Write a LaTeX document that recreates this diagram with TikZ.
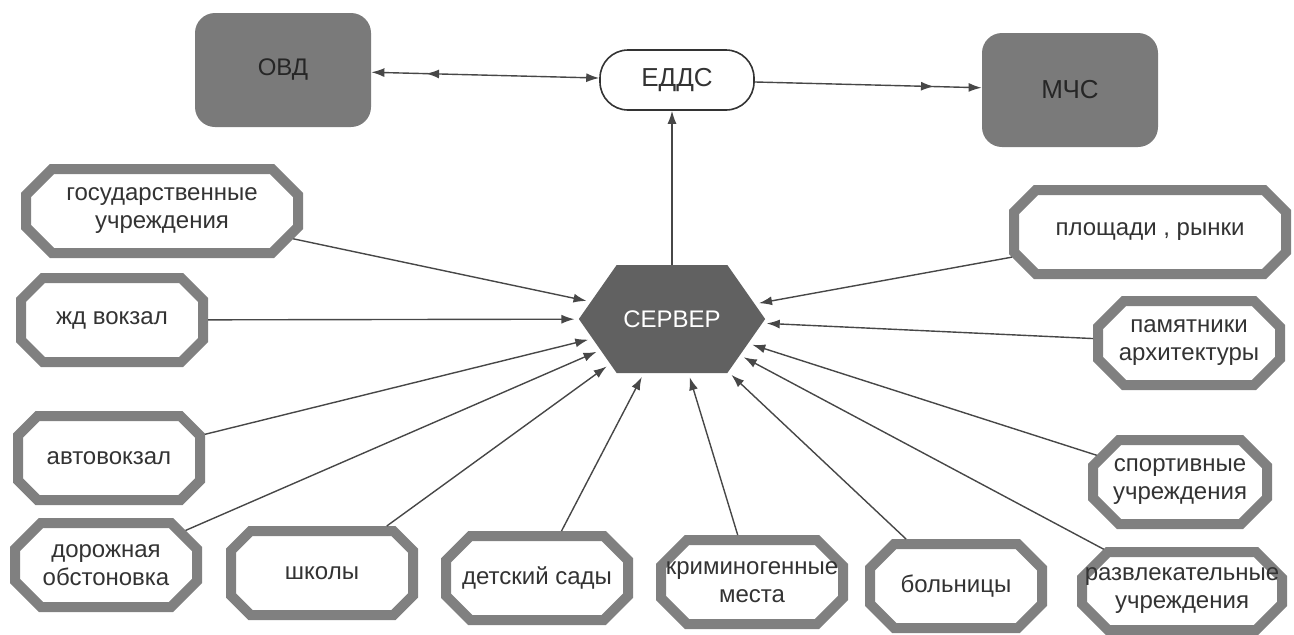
\documentclass[tikz,border=0pt]{standalone}
\usepackage{fontspec}
\setmainfont{Liberation Sans}
\usetikzlibrary{arrows.meta,decorations.markings,shapes.misc,shapes.symbols}
\colorlet{boxgray}{black!50}
\colorlet{agencygray}{black!52}
\colorlet{srvgray}{black!62}
\colorlet{linegray}{black!72}
\tikzset{%
  >={Latex[length=6.5pt,width=4.5pt]}, % default arrow style
  ->-/.style={postaction={decorate},decoration={%
      markings,mark=at position #1 with {\arrow{>}}%
    }%
  },%
  ->-/.default=.5,%
  -<-/.style={postaction={decorate},decoration={%
      markings,mark=at position #1 with {\arrowreversed{>}}%
    }%
  },%
  -<-/.default=.5,%
  txt/.style={font=\fontsize{12}{14}\selectfont},%
  place/.style={txt,chamfered rectangle,chamfered rectangle xsep=6.5pt,%
    chamfered rectangle ysep=6.5pt,draw=boxgray,line width=5pt,fill=white,%
    text=black!80,minimum width=91pt,minimum height=42pt,align=center,inner sep=0pt},%
  wide/.style={minimum width=136pt},%
  agency/.style={txt,rectangle,rounded corners=10pt,fill=agencygray,text=black!85,%
    minimum width=88pt,minimum height=57pt},%
  hub/.style={font=\fontsize{13}{15}\selectfont,rectangle,rounded corners=14pt,%
    draw=black!80,line width=0.8pt,fill=white,text=black!80,%
    minimum width=77pt,minimum height=30pt},%
  srv/.style={txt,signal,signal to=west and east,signal pointer angle=110,%
    fill=srvgray,text=white,minimum width=87.5pt,minimum height=54pt},%
  link/.style={draw=linegray,line width=0.7pt}%
}
\begin{document}
\begin{tikzpicture}[x=0.5pt,y=-0.5pt]
  \useasboundingbox (0,0) rectangle (1294,634);
  % top row
  \node[agency] (ovd)  at (283,70)  {ОВД};
  \node[hub]    (eddc) at (677,80)  {ЕДДС};
  \node[agency,font=\fontsize{13}{15}\selectfont] (mchs) at (1070,90) {МЧС};
  % server
  \node[srv] (server) at (672,319) {СЕРВЕР};
  % objects, left
  \node[place,wide] (gos)    at (162,211) {государственные\\учреждения};
  \node[place]      (zhd)    at (112,320) {жд вокзал};
  \node[place]      (avto)   at (109,458) {автовокзал};
  \node[place]      (dorog)  at (106,565) {дорожная\\обстоновка};
  % objects, bottom
  \node[place]      (shkoly) at (322,573) {школы};
  \node[place]      (detsad) at (537,578) {детский сады};
  \node[place]      (krim)   at (752,582) {\makebox[0pt]{криминогенные}\\места};
  \node[place,minimum width=86pt] (boln) at (956,586) {больницы};
  % objects, right
  \node[place,minimum width=100pt,minimum height=39pt] (razvl) at (1182,591)
    {\makebox[0pt]{развлекательные}\\учреждения};
  \node[place,minimum width=87pt] (sport)  at (1180,482) {спортивные\\учреждения};
  \node[place]      (pamyat) at (1189,343) {памятники\\архитектуры};
  \node[place,wide] (ploshch) at (1150,232) {площади , рынки};
  % links
  \draw[link,<->,-<-=.24] (ovd) -- (eddc);
  \draw[link,->,->-=.79] (eddc) -- (mchs);
  \draw[link,->] (server.north) -- (server.north |- eddc.south);
  \foreach \obj in {gos,zhd,avto,dorog,shkoly,detsad,krim,boln,razvl,sport,pamyat,ploshch}
    \draw[link,->,shorten >=2pt] (\obj) -- (server);
\end{tikzpicture}
\end{document}
